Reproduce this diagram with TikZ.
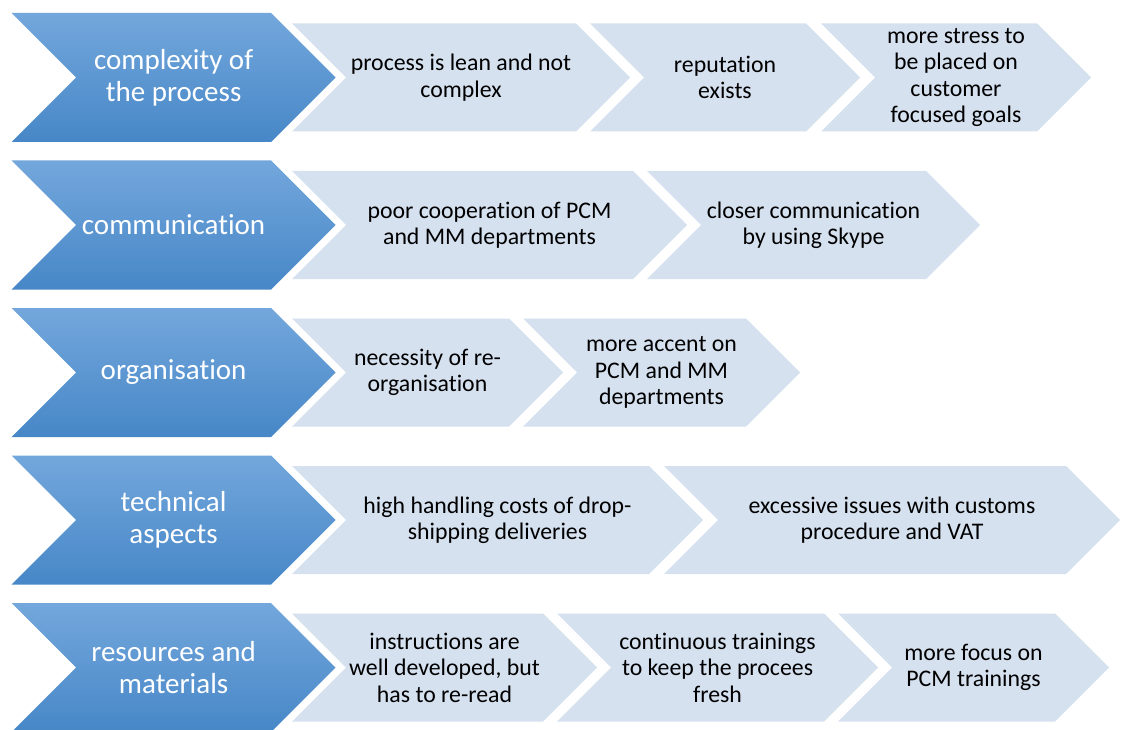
\documentclass[tikz,border=0pt]{standalone}
\usepackage{fontspec}
\setmainfont{Carlito}[Ligatures=NoCommon]
\definecolor{bluetop}{HTML}{73A7DC}
\definecolor{bluemid}{HTML}{5A9AD8}
\definecolor{bluebot}{HTML}{4787C7}
\definecolor{lightfill}{HTML}{D6E1F0}
\begin{document}
\begin{tikzpicture}[x=1pt,y=-1pt,
  bluechev/.style={top color=bluetop,middle color=bluemid,bottom color=bluebot,draw=none},
  lightchev/.style={fill=lightfill,draw=none},
  bluetext/.style={text=white,align=center,font=\fontsize{29}{32}\selectfont,inner sep=0pt},
  lighttext/.style={text=black,align=center,font=\fontsize{23.8}{26.4}\selectfont,inner sep=0pt}]
\useasboundingbox (0,0) rectangle (1124,730);
\fill[white] (0,0) rectangle (1124,730);
% blue chevron: #1 top y
\newcommand{\bluechevron}[1]{%
  \path[bluechev] (11.7,#1) -- (271,#1) -- (335.5,#1+64.5) -- (271,#1+129) -- (11.7,#1+129) -- (76.2,#1+64.5) -- cycle;}
% light chevron: #1 top y (of blue), #2 left, #3 top-right
\newcommand{\lightchevron}[3]{%
  \path[lightchev] (#2,#1+10.5) -- (#3,#1+10.5) -- (#3+54,#1+64.5) -- (#3,#1+118.5) -- (#2,#1+118.5) -- (#2+54,#1+64.5) -- cycle;}
% row 1
\bluechevron{13}
\lightchevron{13}{292}{576}
\lightchevron{13}{590}{806}
\lightchevron{13}{821}{1037}
\node[bluetext] (b1) at (173.6,77.5) {complexity of\\the process};
\node[lighttext] (l11) at (461,77.5) {process is lean and not\\complex};
\node[lighttext] (l12) at (725,77.5) {reputation\\exists};
\node[lighttext] (l13) at (956,77.5) {more stress to\\be placed on\\customer\\focused goals};
% row 2
\bluechevron{160.5}
\lightchevron{160.5}{292}{633}
\lightchevron{160.5}{647}{926}
\node[bluetext] (b2) at (173.6,225) {communication};
\node[lighttext] (l21) at (489.5,225) {poor cooperation of PCM\\and MM departments};
\node[lighttext] (l22) at (813.5,225) {closer communication\\by using Skype};
% row 3
\bluechevron{308}
\lightchevron{308}{292}{509}
\lightchevron{308}{523}{746}
\node[bluetext] (b3) at (173.6,372.5) {organisation};
\node[lighttext] (l31) at (427.5,372.5) {necessity of re-\\organisation};
\node[lighttext] (l32) at (661.5,372.5) {more accent on\\PCM and MM\\departments};
% row 4
\bluechevron{455.5}
\lightchevron{455.5}{292}{649}
\lightchevron{455.5}{664}{1066}
\node[bluetext] (b4) at (173.6,520) {technical\\aspects};
\node[lighttext] (l41) at (497.5,520) {high handling costs of drop-\\shipping deliveries};
\node[lighttext] (l42) at (892,520) {excessive issues with customs\\procedure and VAT};
% row 5
\bluechevron{603}
\lightchevron{603}{292}{543}
\lightchevron{603}{557}{824}
\lightchevron{603}{838}{1055}
\node[bluetext] (b5) at (173.6,667.5) {resources and\\materials};
\node[lighttext] (l51) at (444.5,667.5) {instructions are\\well developed, but\\has to re-read};
\node[lighttext] (l52) at (717.5,667.5) {continuous trainings\\to keep the procees\\fresh};
\node[lighttext] (l53) at (973.5,667.5) {more focus on\\PCM trainings};
\end{tikzpicture}
\end{document}
